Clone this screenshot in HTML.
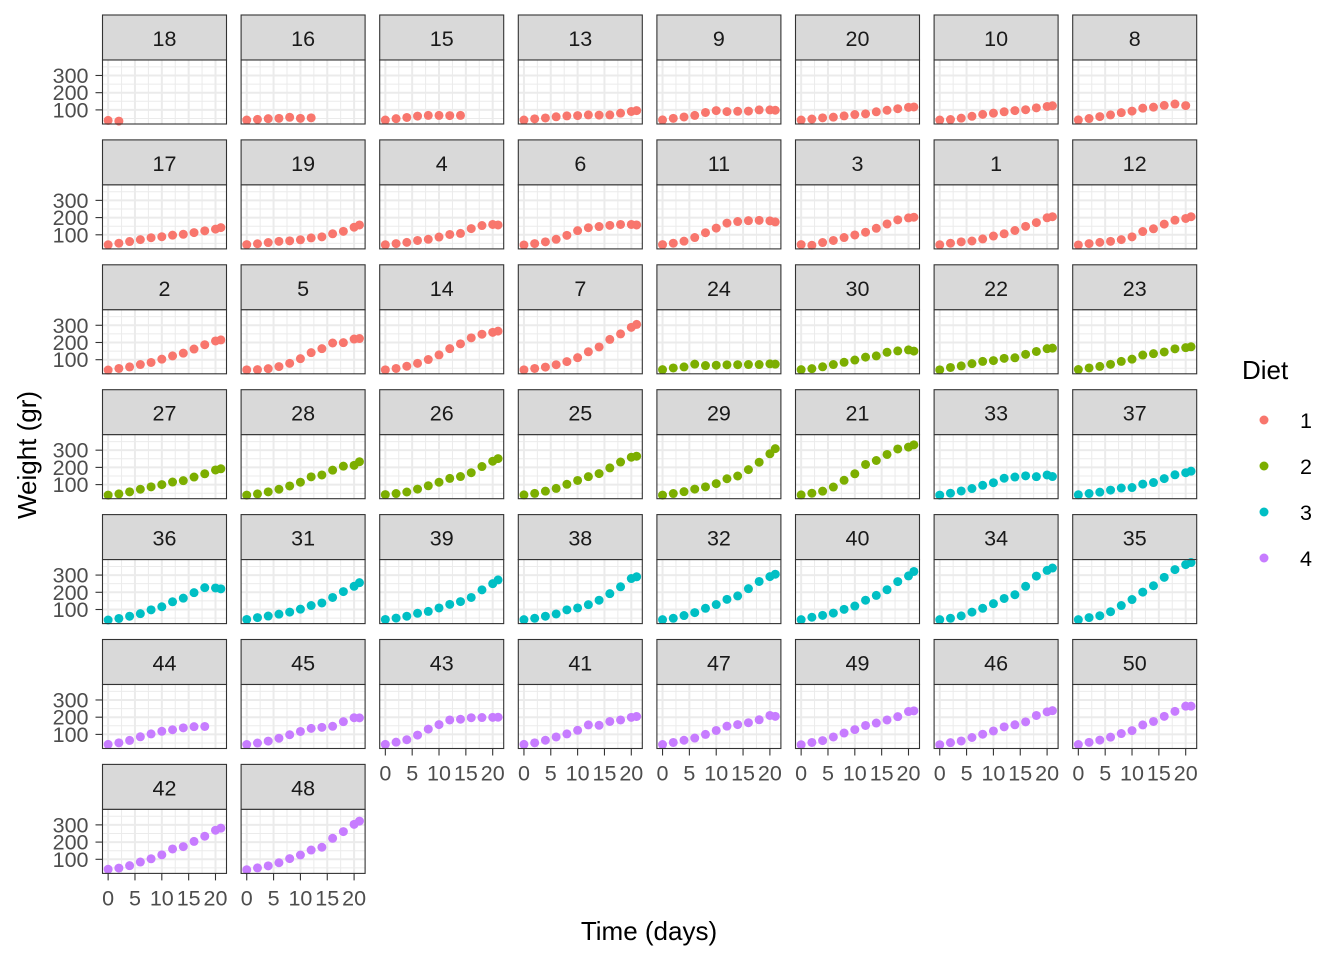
<!DOCTYPE html>
<html><head><meta charset="utf-8"><style>
body{margin:0;background:#fff;}
svg{display:block;font-family:"Liberation Sans",sans-serif;}
</style></head><body>
<svg id="c" width="1344" height="960"></svg>
<script>
const times=[0,2,4,6,8,10,12,14,16,18,20,21];
const chicks=[18,16,15,13,9,20,10,8,17,19,4,6,11,3,1,12,2,5,14,7,24,30,22,23,27,28,26,25,29,21,33,37,36,31,39,38,32,40,34,35,44,45,43,41,47,49,46,50,42,48];
const diets=[1,1,1,1,1,1,1,1,1,1,1,1,1,1,1,1,1,1,1,1,2,2,2,2,2,2,2,2,2,2,3,3,3,3,3,3,3,3,3,3,4,4,4,4,4,4,4,4,4,4];
const weights={
1:[42,51,59,64,76,93,106,125,149,171,199,205],
2:[40,49,58,72,84,103,122,138,162,187,209,215],
3:[43,39,55,67,84,99,115,138,163,187,198,202],
4:[42,49,56,67,74,87,102,108,136,154,160,157],
5:[41,42,48,60,79,106,141,164,197,199,220,223],
6:[41,49,59,74,97,124,141,148,155,160,160,157],
7:[41,49,57,71,89,112,146,174,218,250,288,305],
8:[42,50,61,71,84,93,110,116,126,134,125],
9:[42,51,59,68,85,96,90,92,93,100,100,98],
10:[41,44,52,63,74,81,89,96,101,112,120,124],
11:[43,51,63,84,112,139,168,177,182,184,181,175],
12:[41,49,56,62,72,88,119,135,162,185,195,205],
13:[41,48,53,60,65,67,71,70,71,81,91,96],
14:[41,49,62,79,101,128,164,192,227,248,259,266],
15:[41,49,56,64,68,68,67,68],
16:[41,45,49,51,57,51,54],
17:[42,51,61,72,83,89,98,103,113,123,133,142],
18:[39,35],
19:[43,48,55,62,65,71,82,88,106,120,144,157],
20:[41,47,54,58,65,73,77,89,98,107,115,117],
21:[40,50,62,86,125,163,217,240,275,307,318,331],
22:[41,55,64,77,90,95,108,111,131,148,164,167],
23:[43,52,61,73,90,103,127,135,145,163,170,175],
24:[42,52,58,74,66,68,70,71,72,72,76,74],
25:[40,49,62,78,102,124,146,164,197,231,259,265],
26:[42,48,57,74,93,114,136,147,169,205,236,251],
27:[39,46,58,73,87,100,115,123,144,163,185,192],
28:[39,46,58,73,92,114,145,156,184,207,212,233],
29:[39,48,59,74,87,106,134,150,187,230,279,309],
30:[42,48,59,72,85,98,115,122,143,151,157,150],
31:[42,53,62,73,85,102,123,138,170,204,235,256],
32:[41,49,65,82,107,129,159,179,221,263,291,305],
33:[39,50,63,77,96,111,137,144,151,146,156,147],
34:[41,49,63,85,107,134,164,186,235,294,327,341],
35:[41,53,64,87,123,158,201,238,287,332,361,373],
36:[39,48,61,76,98,116,145,166,198,227,225,220],
37:[41,48,56,68,80,83,103,112,135,157,169,178],
38:[41,49,61,74,98,109,128,154,192,232,280,290],
39:[42,50,61,78,89,109,130,146,170,214,250,272],
40:[41,55,66,79,101,120,154,182,215,262,295,321],
41:[42,51,66,85,103,124,155,153,175,184,199,204],
42:[42,49,63,84,103,126,160,174,204,234,269,281],
43:[42,55,69,96,131,157,184,188,197,198,199,200],
44:[42,51,65,86,103,118,127,138,145,146],
45:[41,50,61,78,98,117,135,141,147,174,197,196],
46:[40,52,62,82,101,120,144,156,173,210,231,238],
47:[41,53,66,79,100,123,148,157,168,185,210,205],
48:[39,50,62,80,104,125,154,170,222,261,303,322],
49:[40,53,64,85,108,128,152,166,184,203,233,237],
50:[41,54,67,84,105,122,155,175,205,234,264,264]};
const xTicks=[0,5,10,15,20];
const yTicks=[100,200,300];
const dietLevels=[1,2,3,4];
const colors=["#F8766D","#7CAE00","#00BFC4","#C77CFF"];

const svg=document.getElementById('c');
const NS="http://www.w3.org/2000/svg";
function mk(tag,attrs,parent){const e=document.createElementNS(NS,tag);for(const k in attrs)e.setAttribute(k,attrs[k]);(parent||svg).appendChild(e);return e;}
const PW=124,SH=45,PH=64;
const xmin=-1.05,xmax=22.05,ymin=18.1,ymax=389.9;
function colX(c){return 102.5+c*138.6;}
function rowY(r){return 15+r*124.9;}
function sx(x0,t){return x0+(t-xmin)/(xmax-xmin)*PW;}
function sy(y0,w){return y0+PH-(w-ymin)/(ymax-ymin)*PH;}
const ncol=8,n=chicks.length;
chicks.forEach((ch,i)=>{
  const c=i%ncol,r=Math.floor(i/ncol);
  const x0=colX(c),top=rowY(r),y0=top+SH;
  const g=mk('g',{});
  
  
  const strip=mk('rect',{x:x0,y:top,width:PW,height:SH,fill:'#D9D9D9',stroke:'#333','stroke-width':1.1},g);
  
  
  const st=mk('text',{x:x0+PW/2,y:top+31,'text-anchor':'middle','font-size':21.5,fill:'#1A1A1A'},g);
  st.textContent=ch;
  
  
  mk('rect',{x:x0,y:y0,width:PW,height:PH,fill:'#fff'},g);
  for(let t=2.5;t<22;t+=5)mk('line',{x1:sx(x0,t),x2:sx(x0,t),y1:y0,y2:y0+PH,stroke:'#EBEBEB','stroke-width':1},g);
  for(let w=50;w<390;w+=100)mk('line',{x1:x0,x2:x0+PW,y1:sy(y0,w),y2:sy(y0,w),stroke:'#EBEBEB','stroke-width':1},g);
  xTicks.forEach(t=>mk('line',{x1:sx(x0,t),x2:sx(x0,t),y1:y0,y2:y0+PH,stroke:'#EBEBEB','stroke-width':2},g));
  yTicks.forEach(w=>mk('line',{x1:x0,x2:x0+PW,y1:sy(y0,w),y2:sy(y0,w),stroke:'#EBEBEB','stroke-width':2},g));
  const col=colors[dietLevels.indexOf(diets[i])];
  weights[ch].forEach((w,j)=>{
    const p=mk('circle',{cx:sx(x0,times[j]),cy:sy(y0,w),r:4.5,fill:col},g);
    
    
  });
  mk('rect',{x:x0,y:y0,width:PW,height:PH,fill:'none',stroke:'#333','stroke-width':1.1},g);
  if(c===0){
    yTicks.forEach(w=>{
      mk('line',{x1:x0-7,x2:x0,y1:sy(y0,w),y2:sy(y0,w),stroke:'#333','stroke-width':1.1},g);
      const tl=mk('text',{x:x0-14,y:sy(y0,w)+7.5,'text-anchor':'end','font-size':21.5,fill:'#4D4D4D'},g);
      tl.textContent=w;
      
      
    });
  }
  if(i+ncol>=n){
    xTicks.forEach(t=>{
      mk('line',{x1:sx(x0,t),x2:sx(x0,t),y1:y0+PH,y2:y0+PH+7,stroke:'#333','stroke-width':1.1},g);
      const tl=mk('text',{x:sx(x0,t),y:y0+PH+32,'text-anchor':'middle','font-size':21.5,fill:'#4D4D4D'},g);
      tl.textContent=t;
      
      
    });
  }
});
const xt=mk('text',{x:649,y:940,'text-anchor':'middle','font-size':26,fill:'#000'});
xt.textContent='Time (days)';


const yt=mk('text',{x:36,y:455,'text-anchor':'middle','font-size':26,fill:'#000',transform:'rotate(-90 36 455)'});
yt.textContent='Weight (gr)';


const lt=mk('text',{x:1242,y:379,'font-size':26,fill:'#000'});
lt.textContent='Diet';


dietLevels.forEach((d,k)=>{
  const y=420+k*46;
  const lg=mk('g',{});
  
  
  mk('circle',{cx:1264,cy:y,r:4.5,fill:colors[k]},lg);
  const t=mk('text',{x:1300,y:y+8,'font-size':21.5,fill:'#000'},lg);
  t.textContent=d;
});
</script>
</body></html>
